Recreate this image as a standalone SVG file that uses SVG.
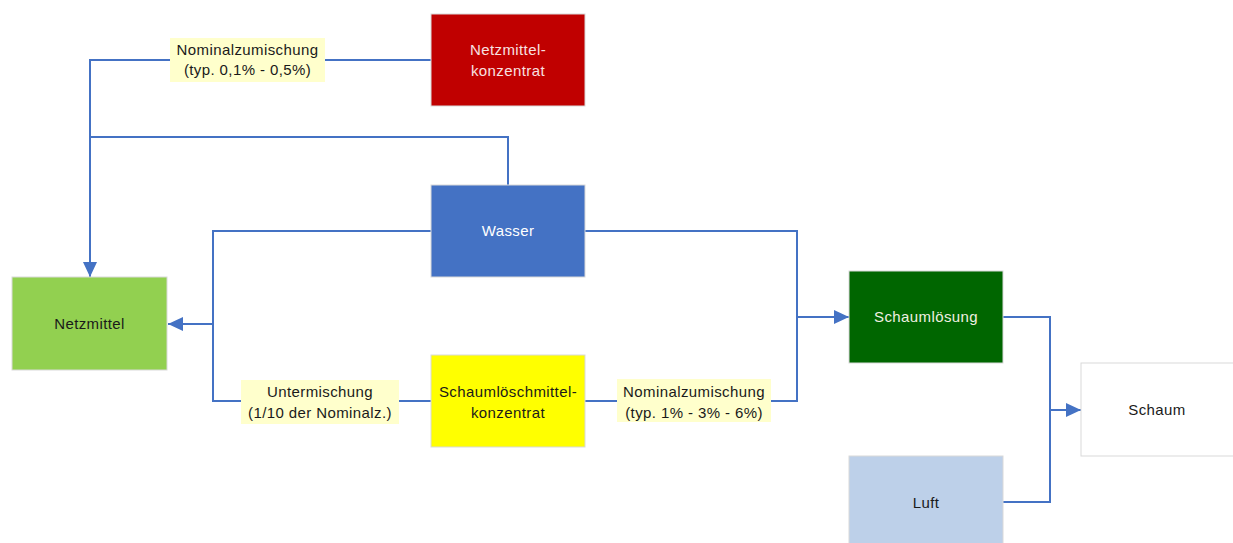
<svg xmlns="http://www.w3.org/2000/svg" width="1233" height="543" viewBox="0 0 1233 543">
<defs>
<marker id="arr" viewBox="0 0 15 14" refX="15" refY="7" markerWidth="15" markerHeight="14" markerUnits="userSpaceOnUse" orient="auto">
<path d="M0,0 L15,7 L0,14 Z" fill="#4472C4"/>
</marker>
<style>
.n{stroke:#D9D9D9;stroke-width:1}
.t{font-family:"Liberation Sans",Arial,sans-serif;font-size:15px;letter-spacing:0.4px;text-anchor:middle}
.dk{fill:#1A1A1A}
.lt{fill:#FFFFFF}
.c{fill:none;stroke:#4472C4;stroke-width:2}
.lb{fill:#FFFFCC}
</style>
</defs>
<rect width="1233" height="543" fill="#FFFFFF"/>
<g id="connectors">
<polyline class="c" points="431,60 90,60 90,277" marker-end="url(#arr)"/>
<polyline class="c" points="508,185 508,137 90,137"/>
<polyline class="c" points="431,231 213,231 213,401 431,401"/>
<line class="c" x1="213" y1="324" x2="168" y2="324" marker-end="url(#arr)"/>
<polyline class="c" points="585,231 797,231 797,401 585,401"/>
<line class="c" x1="797" y1="317" x2="849" y2="317" marker-end="url(#arr)"/>
<polyline class="c" points="1003,317 1050,317 1050,502 1003,502"/>
<line class="c" x1="1050" y1="410" x2="1081" y2="410" marker-end="url(#arr)"/>
<g id="label-nominal1">
<rect class="lb" x="170" y="38" width="155" height="44"/>
<text class="t dk" x="247.5" y="55">Nominalzumischung</text>
<text class="t dk" x="247.5" y="75">(typ. 0,1% - 0,5%)</text>
</g>
<g id="label-unter">
<rect class="lb" x="241" y="380" width="158" height="44"/>
<text class="t dk" x="320" y="397">Untermischung</text>
<text class="t dk" x="320" y="418">(1/10 der Nominalz.)</text>
</g>
<g id="label-nominal2">
<rect class="lb" x="617" y="379" width="154" height="43"/>
<text class="t dk" x="694" y="397">Nominalzumischung</text>
<text class="t dk" x="694" y="418">(typ. 1% - 3% - 6%)</text>
</g>
</g>
<g id="netzmittelkonzentrat">
<rect class="n" x="431" y="14" width="154" height="92" fill="#C00000"/>
<text class="t" fill="#F8E0E0" x="508" y="55">Netzmittel-</text>
<text class="t" fill="#F8E0E0" x="508" y="76">konzentrat</text>
</g>
<g id="wasser">
<rect class="n" x="431" y="185" width="154" height="92" fill="#4472C4"/>
<text class="t lt" x="508" y="236">Wasser</text>
</g>
<g id="netzmittel">
<rect class="n" x="12" y="277" width="155" height="93" fill="#92D050"/>
<text class="t dk" x="89.5" y="329">Netzmittel</text>
</g>
<g id="schaumloeschmittelkonzentrat">
<rect class="n" x="431" y="355" width="154" height="92" fill="#FFFF00"/>
<text class="t dk" x="508" y="397">Schaumlöschmittel-</text>
<text class="t dk" x="508" y="418">konzentrat</text>
</g>
<g id="schaumloesung">
<rect class="n" x="849" y="271" width="154" height="92" fill="#006600"/>
<text class="t" fill="#F0F0E0" x="926" y="322">Schaumlösung</text>
</g>
<g id="schaum">
<rect class="n" x="1081" y="363" width="160" height="93" fill="#FFFFFF"/>
<text class="t dk" x="1157" y="415">Schaum</text>
</g>
<g id="luft">
<rect class="n" x="849" y="456" width="154" height="95" fill="#BDD0E9"/>
<text class="t dk" x="926" y="508">Luft</text>
</g>
</svg>
